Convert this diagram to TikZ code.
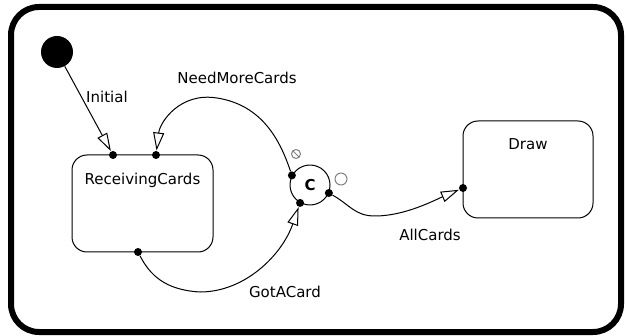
\documentclass[tikz,border=0pt]{standalone}
\usepackage{fontspec}
\setmainfont{DejaVu Sans}
\usetikzlibrary{arrows.meta}
\tikzset{
  state/.style={draw,rounded corners=7.5pt,inner sep=0pt,outer sep=0pt,minimum height=48.5pt},
  cnode/.style={draw,circle,inner sep=0pt,minimum size=20pt,font=\fontsize{7.5}{9}\selectfont\bfseries},
  dot/.style={circle,fill=black,inner sep=0pt,minimum size=4pt},
  flow/.style={-{Triangle[open,length=9pt,width=5.5pt]}},
}
\begin{document}
\begin{tikzpicture}[x=0.5pt,y=-0.5pt,line width=0.5pt,line join=round,line cap=round,font=\fontsize{7.5}{9}\selectfont]
			\useasboundingbox (0,0) rectangle (626,336);
			\draw [line width=3pt,rounded corners=14pt] (11,7) rectangle (621,332);
			% states
			\node [circle,fill=black,inner sep=0pt,minimum size=16pt] (init) at (57,52) {};
			\node [state,minimum width=70.5pt] (rc) at (142.5,203.5) {};
			\node at ([yshift=-12.5pt]rc.north) {ReceivingCards};
			\node [state,minimum width=65pt] (dr) at (528,169.5) {};
			\node at ([yshift=-11.75pt]dr.north) {Draw};
			\node [cnode] (cn) at (310,185) {C};
			% small marks
			\draw [gray] (296,154) circle (4.5) (296,154)+(45:4.5) -- +(-135:4.5);
			\draw [gray] (341,179) circle (6);
			% ports
			\node [dot] (rcA) at ([xshift=-14.75pt]rc.north) {};
			\node [dot] (rcB) at ([xshift=6.75pt]rc.north) {};
			\node [dot] (rcC) at ([xshift=-2.25pt]rc.south) {};
			\node [dot] (drA) at ([yshift=-9.25pt]dr.west) {};
			\node [dot] (cnA) at (cn.152) {};
			\node [dot] (cnB) at (cn.241) {};
			\node [dot] (cnC) at (cn.337) {};
			% transitions
			\draw [flow] (init) -- (rcA);
			\draw [flow] (cnA) .. controls (280,140) and (262,105) .. (217,98)
				.. controls (180,92) and (160,122) .. (rcB);
			\draw [flow] (rcC) .. controls (150,275) and (165,290) .. (200,292)
				.. controls (245,292) and (282,255) .. (cnB);
			\draw [flow] (cnC) .. controls (350,205) and (355,216) .. (375,216)
				.. controls (405,216) and (435,200) .. (drA);
			% labels
			\node at (107,97) {Initial};
			\node at (237,78) {NeedMoreCards};
			\node at (430,235) {AllCards};
			\node at (285,292) {GotACard};
		\end{tikzpicture}
\end{document}
